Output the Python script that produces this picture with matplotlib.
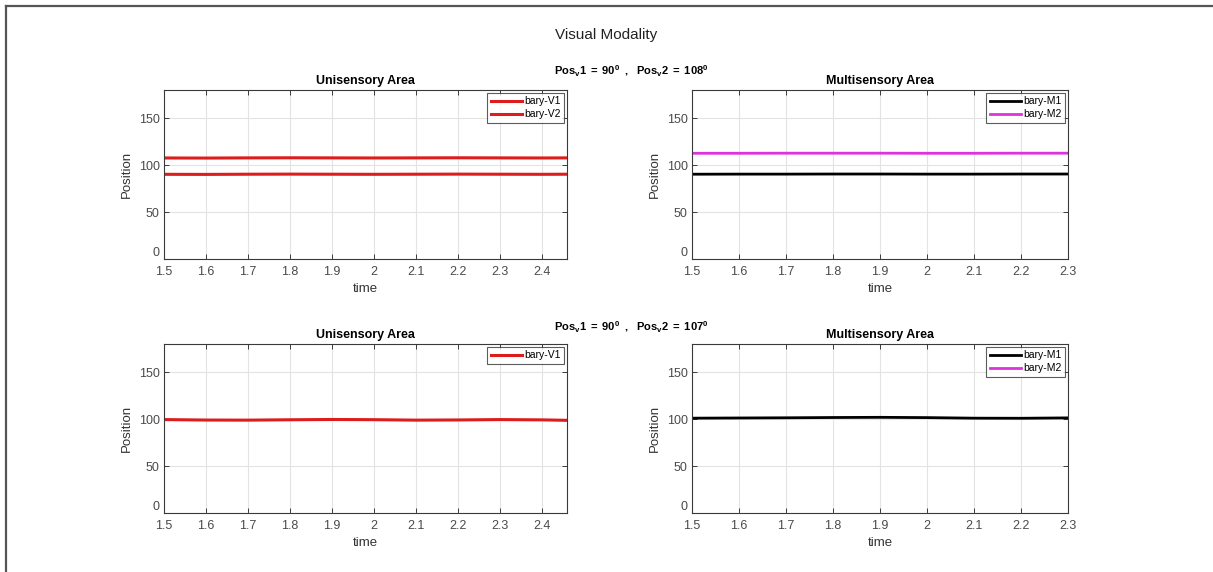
import numpy as np
import matplotlib
matplotlib.use("Agg")
import matplotlib.pyplot as plt
from matplotlib.lines import Line2D

plt.rcParams['font.family'] = ['Liberation Sans', 'DejaVu Sans']
plt.rcParams['mathtext.fontset'] = 'custom'
plt.rcParams['mathtext.rm'] = 'Liberation Sans'
plt.rcParams['mathtext.bf'] = 'Liberation Sans:bold'
plt.rcParams['mathtext.it'] = 'Liberation Sans:italic'

# Barycenter traces, sampled every 0.1 s
time_uni = [1.5, 1.6, 1.7, 1.8, 1.9, 2.0, 2.1, 2.2, 2.3, 2.4, 2.46]
time_multi = [1.5, 1.6, 1.7, 1.8, 1.9, 2.0, 2.1, 2.2, 2.3]

# stimulus pair 90 / 108 deg
bary_v1_a = [90.2, 90.1, 90.3, 90.4, 90.3, 90.2, 90.3, 90.4, 90.3, 90.2, 90.3]
bary_v2_a = [107.6, 107.5, 107.7, 107.8, 107.7, 107.6, 107.7, 107.8, 107.7, 107.6, 107.7]
bary_m1_a = [90.3, 90.4, 90.4, 90.5, 90.5, 90.4, 90.4, 90.5, 90.5]
bary_m2_a = [112.6, 112.6, 112.7, 112.7, 112.7, 112.6, 112.6, 112.7, 112.7]

# stimulus pair 90 / 107 deg
bary_v1_b = [99.5, 99.0, 98.9, 99.3, 99.6, 99.4, 98.9, 99.1, 99.5, 99.2, 98.7]
bary_m1_b = [101.0, 101.2, 101.4, 101.7, 101.9, 101.6, 101.0, 100.9, 101.3]

pos_labels = [r'$\mathbf{Pos_v1\ =\ 90^0\ \ ,\ \ Pos_v2\ =\ 108^0}$',
              r'$\mathbf{Pos_v1\ =\ 90^0\ \ ,\ \ Pos_v2\ =\ 107^0}$']

red = '#dd1c1c'
magenta = '#dd33dd'

W, H = 1213, 572
fig = plt.figure(figsize=(W / 100, H / 100), dpi=100)


def px_axes(left, top, right, bottom):
    return fig.add_axes([left / W, 1 - bottom / H, (right - left) / W, (bottom - top) / H])


def style(ax, xmax, xticks, title):
    ax.set_xlim(1.5, xmax)
    ax.set_ylim(0, 180)
    ax.set_xticks(xticks)
    ax.set_xticklabels([('%g' % t) for t in xticks])
    ax.set_yticks([0, 50, 100, 150])
    ax.grid(True, color='#e3e3e3', linewidth=0.8)
    ax.set_axisbelow(True)
    ax.tick_params(direction='in', length=3.5, width=0.7, top=True, right=True,
                   labelsize=9, labelcolor='#4a4a4a', color='#3a3a3a')
    ax.tick_params(axis='x', pad=5)
    ax.tick_params(axis='y', pad=3)
    for s in ax.spines.values():
        s.set_color('#3a3a3a')
        s.set_linewidth(0.8)
    ax.set_xlabel('time', fontsize=9.5, color='#333333', labelpad=4)
    ax.set_ylabel('Position', fontsize=9.5, color='#333333', labelpad=4)
    ax.set_title(title, fontsize=9, fontweight='bold', pad=4)
    # lift the bottom y label a little off the x tick row
    ax.get_yticklabels()[0].set_verticalalignment('bottom')


def add_legend(ax):
    leg = ax.legend(loc='upper right', fontsize=7.5, frameon=True, fancybox=False,
                    handlelength=3.0, handletextpad=0.2, borderpad=0.35,
                    labelspacing=0.3, borderaxespad=0.25)
    leg.get_frame().set_edgecolor('#333333')
    leg.get_frame().set_linewidth(0.8)


x_uni = np.round(np.arange(1.5, 2.41, 0.1), 1)
x_multi = np.round(np.arange(1.5, 2.31, 0.1), 1)

# top row
ax1 = px_axes(164, 90, 567, 259)
ax1.plot(time_uni, bary_v1_a, color=red, linewidth=2.2, label='bary-V1')
ax1.plot(time_uni, bary_v2_a, color=red, linewidth=2.2, label='bary-V2')
style(ax1, 2.46, x_uni, 'Unisensory Area')
add_legend(ax1)

ax2 = px_axes(692, 90, 1068, 259)
ax2.plot(time_multi, bary_m1_a, color='black', linewidth=2.0, label='bary-M1')
ax2.plot(time_multi, bary_m2_a, color=magenta, linewidth=2.0, label='bary-M2')
style(ax2, 2.3, x_multi, 'Multisensory Area')
add_legend(ax2)

# bottom row
ax3 = px_axes(164, 344, 567, 513)
ax3.plot(time_uni, bary_v1_b, color=red, linewidth=2.2, label='bary-V1')
style(ax3, 2.46, x_uni, 'Unisensory Area')
add_legend(ax3)

ax4 = px_axes(692, 344, 1068, 513)
ax4.plot(time_multi, bary_m1_b, color='black', linewidth=2.0, label='bary-M1')
ax4.plot([], [], color=magenta, linewidth=2.0, label='bary-M2')
style(ax4, 2.3, x_multi, 'Multisensory Area')
add_legend(ax4)

# figure title and stimulus positions
fig.text(606 / W, 1 - 35 / H, 'Visual Modality', ha='center', va='center',
         fontsize=11, color='#222222')
fig.text(631 / W, 1 - 71 / H, pos_labels[0], ha='center', va='center', fontsize=8)
fig.text(631 / W, 1 - 327 / H, pos_labels[1], ha='center', va='center', fontsize=8)

# window frame edges
fig.add_artist(Line2D([6 / W, 1], [1 - 6 / H, 1 - 6 / H], color='#555555', linewidth=1.6))
fig.add_artist(Line2D([6 / W, 6 / W], [0, 1 - 6 / H], color='#555555', linewidth=1.6))

fig.savefig('out.png', dpi=100)
